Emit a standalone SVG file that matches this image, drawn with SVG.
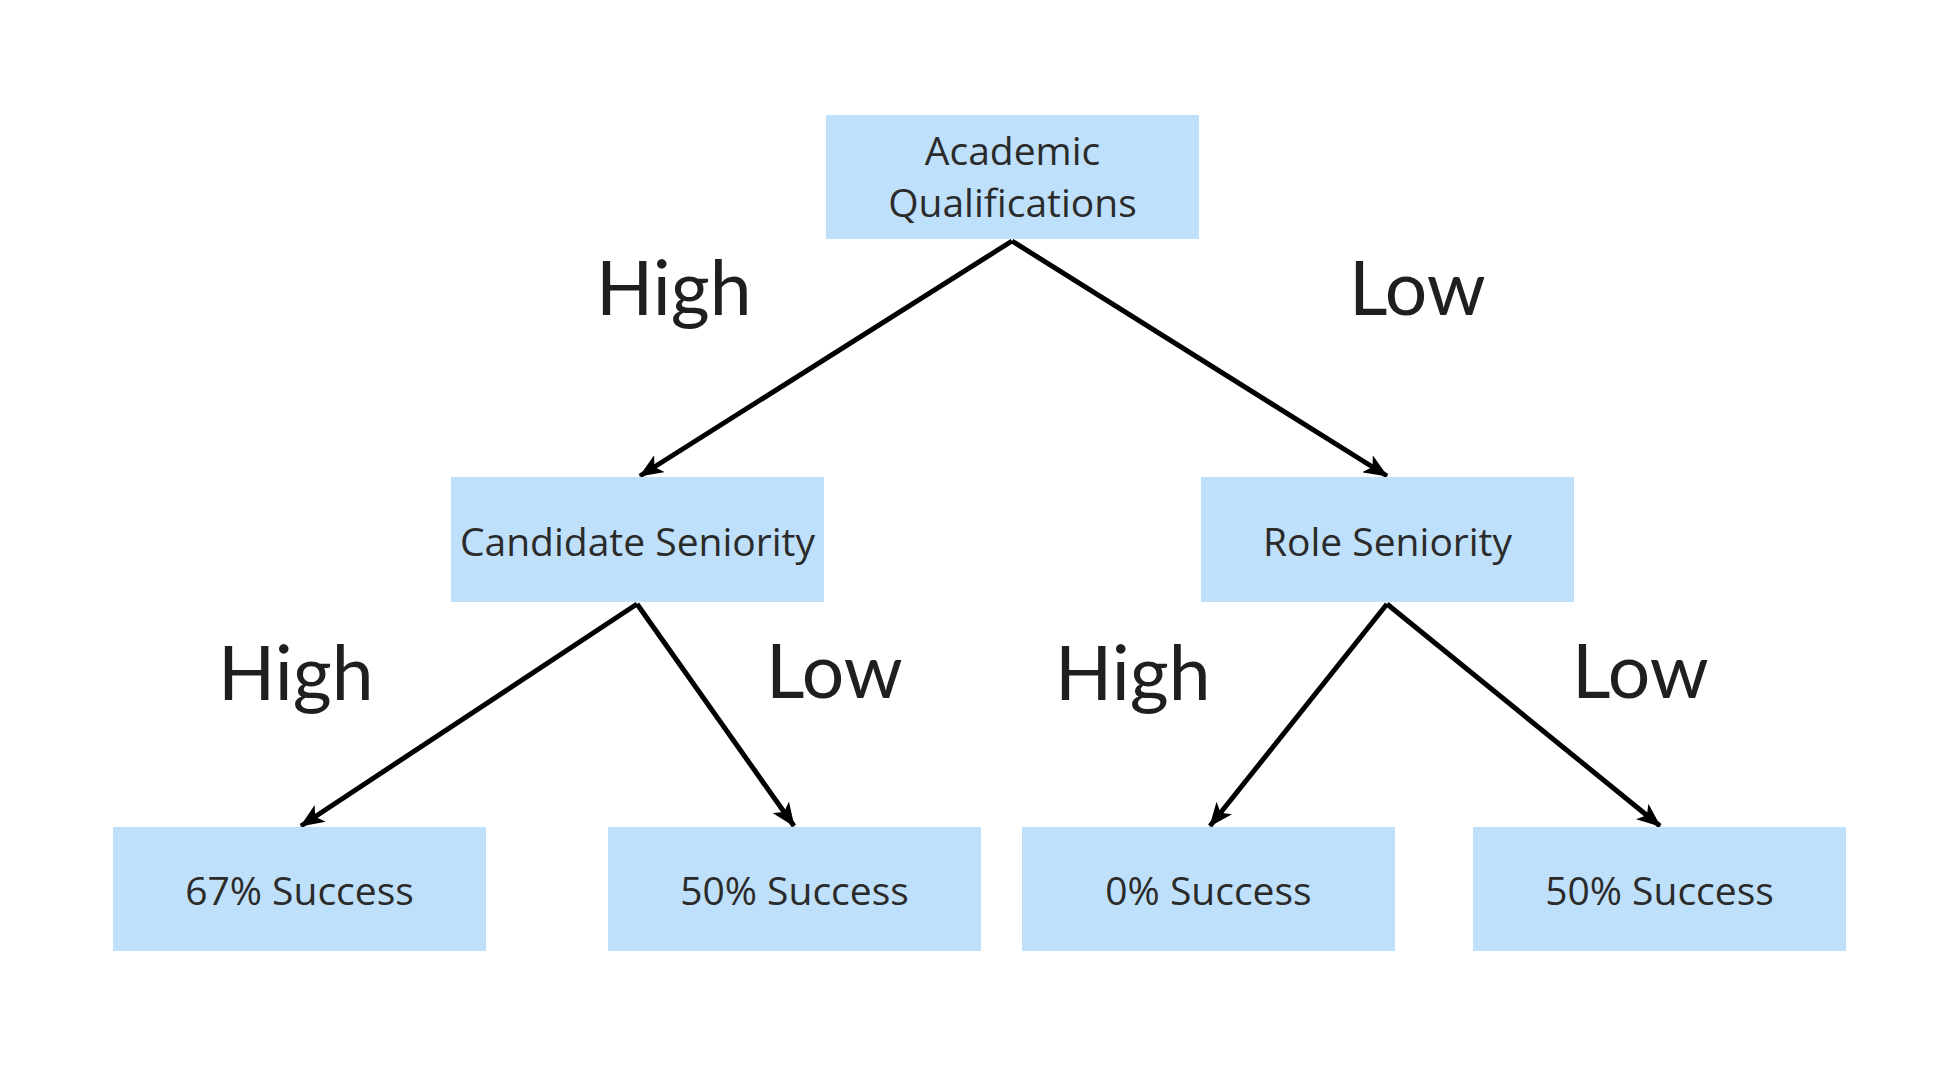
<svg xmlns="http://www.w3.org/2000/svg" width="1946" height="1076" viewBox="0 0 1946 1076">
<style>
.box{fill:#bfe0fa;}
.nt{font-family:"Open Sans","DejaVu Sans",sans-serif;font-size:39px;fill:#2b2b2b;text-anchor:middle;}
.lbl{font-family:Lato,"Liberation Sans",sans-serif;font-size:75px;fill:#1f1f1f;}
.edge{stroke:#000;stroke-width:5;fill:none;marker-end:url(#arr);}
</style>
<defs>
<marker id="arr" viewBox="0 0 24 20" refX="23" refY="10" markerWidth="24" markerHeight="20" markerUnits="userSpaceOnUse" orient="auto">
<path d="M0,0 L24,10 L0,20 L6,10 Z" fill="#000"/>
</marker>
</defs>
<rect width="1946" height="1076" fill="#fff"/>
<g id="edges">
<line class="edge" x1="1012" y1="241" x2="640" y2="476"/>
<line class="edge" x1="1012" y1="241" x2="1387" y2="476"/>
<line class="edge" x1="637" y1="604" x2="301" y2="826"/>
<line class="edge" x1="637" y1="604" x2="794" y2="826"/>
<line class="edge" x1="1387" y1="604" x2="1210" y2="826"/>
<line class="edge" x1="1387" y1="604" x2="1660" y2="826"/>
</g>
<g id="labels">
<text class="lbl" x="596" y="315">High</text>
<text class="lbl" x="1349" y="315">Low</text>
<text class="lbl" x="218" y="700">High</text>
<text class="lbl" x="766" y="698">Low</text>
<text class="lbl" x="1055" y="700">High</text>
<text class="lbl" x="1572" y="698">Low</text>
</g>
<g id="n-academic">
<rect class="box" x="826" y="115" width="373" height="124"/>
<text class="nt" x="1012.5" y="165">Academic</text>
<text class="nt" x="1012.5" y="217">Qualifications</text>
</g>
<g id="n-candidate">
<rect class="box" x="451" y="477" width="373" height="125"/>
<text class="nt" x="637.5" y="556">Candidate Seniority</text>
</g>
<g id="n-role">
<rect class="box" x="1201" y="477" width="373" height="125"/>
<text class="nt" x="1387.5" y="556">Role Seniority</text>
</g>
<g id="n-67">
<rect class="box" x="113" y="827" width="373" height="124"/>
<text class="nt" x="299.5" y="905">67% Success</text>
</g>
<g id="n-50a">
<rect class="box" x="608" y="827" width="373" height="124"/>
<text class="nt" x="794.5" y="905">50% Success</text>
</g>
<g id="n-0">
<rect class="box" x="1022" y="827" width="373" height="124"/>
<text class="nt" x="1208.5" y="905">0% Success</text>
</g>
<g id="n-50b">
<rect class="box" x="1473" y="827" width="373" height="124"/>
<text class="nt" x="1659.5" y="905">50% Success</text>
</g>
</svg>
